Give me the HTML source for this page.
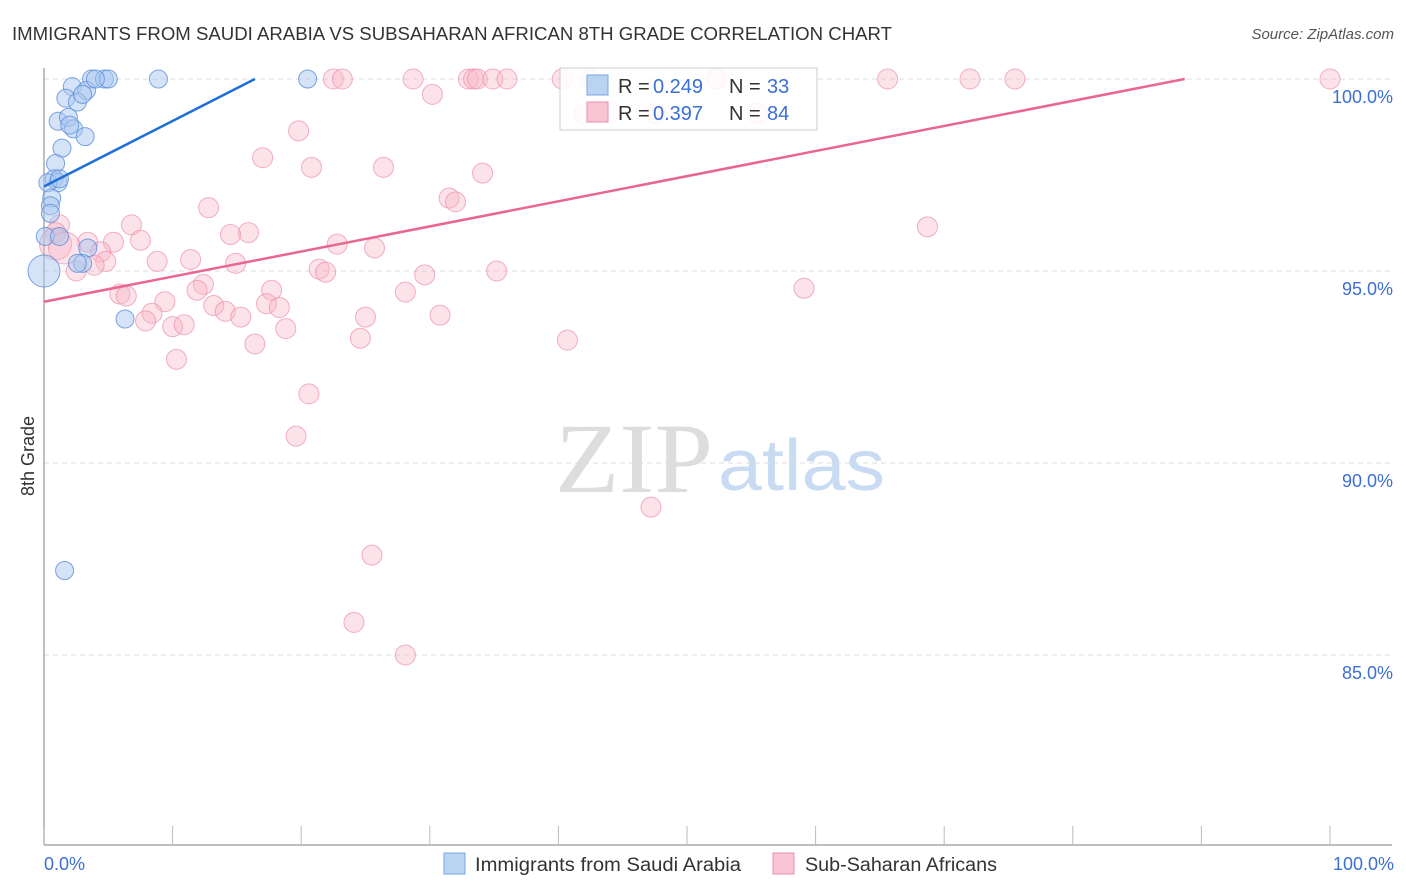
<!DOCTYPE html>
<html><head><meta charset="utf-8"><style>
body{margin:0;background:#fff;font-family:"Liberation Sans",sans-serif;}
#wrap{position:relative;width:1406px;height:892px;overflow:hidden;}
</style></head><body>
<div id="wrap">
<svg id="svg" width="1406" height="892" xmlns="http://www.w3.org/2000/svg">
<text x="12" y="40" font-size="18" fill="#333" textLength="880" lengthAdjust="spacingAndGlyphs">IMMIGRANTS FROM SAUDI ARABIA VS SUBSAHARAN AFRICAN 8TH GRADE CORRELATION CHART</text>
<text x="1394" y="39" font-size="15" fill="#555" text-anchor="end" font-style="italic">Source: ZipAtlas.com</text>
<text transform="translate(34,456) rotate(-90)" font-size="18" fill="#333" text-anchor="middle">8th Grade</text>
<g><text x="555" y="492" font-size="100" fill="#ddd" font-family="Liberation Serif,serif" textLength="158" lengthAdjust="spacingAndGlyphs">ZIP</text><text x="718" y="490" font-size="72" fill="#c8dbf3" textLength="167" lengthAdjust="spacingAndGlyphs">atlas</text></g>
<g id="grid"></g><g id="axes"></g><g id="pts"></g><g id="lines"></g>
<g>
<rect x="560" y="68" width="257" height="62" fill="#fff" fill-opacity="0.85" stroke="#ccc"/>
<rect x="587" y="75" width="21" height="20" fill="#b9d3f3" stroke="#7aa6e0"/>
<rect x="587" y="102" width="21" height="20" fill="#f9c4d4" stroke="#ec8fab"/>
<g font-size="20">
<text x="618" y="93" fill="#333">R =</text><text x="653" y="93" fill="#3b6fd6">0.249</text><text x="729" y="93" fill="#333">N =</text><text x="767" y="93" fill="#3b6fd6">33</text>
<text x="618" y="120" fill="#333">R =</text><text x="653" y="120" fill="#3b6fd6">0.397</text><text x="729" y="120" fill="#333">N =</text><text x="767" y="120" fill="#3b6fd6">84</text>
</g>
</g>
<g>
<rect x="444" y="853" width="21" height="21" fill="#b9d3f3" stroke="#7aa6e0"/>
<text x="475" y="871" font-size="19" fill="#333" textLength="266" lengthAdjust="spacingAndGlyphs">Immigrants from Saudi Arabia</text>
<rect x="773" y="853" width="21" height="21" fill="#f9c4d4" stroke="#ec8fab"/>
<text x="805" y="871" font-size="19" fill="#333" textLength="192" lengthAdjust="spacingAndGlyphs">Sub-Saharan Africans</text>
</g>
</svg>
</div>
<script>
const blueX=[2.2,3.7,4.7,5.0,8.9,20.5,3.3,1.7,2.6,3.0,1.1,1.9,2.3,3.2,1.4,0.9,0.8,1.1,0.3,0.6,0.5,0.5,0.1,1.2,3.4,3.0,2.6,0,6.3,1.6,4.0,1.2,2.0];
const blueY=[99.8,100,100,100,100,100,99.7,99.5,99.4,99.6,98.9,99.0,98.7,98.5,98.2,97.8,97.4,97.3,97.3,96.9,96.7,96.5,95.9,95.9,95.6,95.2,95.2,95.0,93.75,87.2,100,97.4,98.8];
const pinkX=[22.5,23.2,28.7,33.0,33.4,33.7,34.9,36.0,40.3,42.5,52.3,65.6,72.0,75.5,100,30.2,19.8,17.0,20.8,26.4,34.1,31.5,32.0,12.8,6.8,68.7,15.9,14.5,1.2,0.9,3.4,5.4,7.5,22.8,25.7,4.4,8.8,11.4,14.9,4.8,3.9,2.5,21.4,21.9,29.6,35.2,59.1,5.9,6.4,12.4,11.9,17.7,28.1,9.4,17.3,18.3,13.2,14.1,8.4,15.3,7.9,10.0,10.9,25.0,30.8,18.8,24.6,16.4,40.7,10.3,20.6,19.6,47.2,25.5,24.1,28.1,0.9,1.6,42.0,47.5,55.5];
const pinkY=[100,100,100,100,100,100,100,100,100,100,100,100,100,100,100,99.6,98.65,97.95,97.7,97.7,97.55,96.9,96.8,96.65,96.2,96.15,96.0,95.95,96.2,96.0,95.75,95.75,95.8,95.7,95.6,95.5,95.25,95.3,95.2,95.25,95.15,95.0,95.05,94.97,94.9,95.0,94.55,94.4,94.35,94.65,94.5,94.5,94.45,94.2,94.15,94.05,94.1,93.95,93.9,93.8,93.7,93.55,93.6,93.8,93.85,93.5,93.25,93.1,93.2,92.7,91.8,90.7,88.85,87.6,85.85,85.0,95.7,95.6,99.1,99.1,99.1];
const yTicks=[100,95,90,85];
const yTickLabels=["100.0%","95.0%","90.0%","85.0%"];
const xTicks=[0,10,20,30,40,50,60,70,80,90,100];
const blueTrend=[0,97.2,16.4,100];
const pinkTrend=[0,94.2,88.7,100];
const NS="http://www.w3.org/2000/svg";
const X=v=>44+v*12.86, Y=v=>79+(100-v)*38.4;
function mk(tag,attrs,parent){const e=document.createElementNS(NS,tag);for(const k in attrs)e.setAttribute(k,attrs[k]);document.getElementById(parent).appendChild(e);return e;}
yTicks.forEach((t,i)=>{
 const l=mk('line',{x1:44,x2:1392,y1:Y(t),y2:Y(t),stroke:'#ddd','stroke-dasharray':'5,4'},'grid');
 
 
 const tx=mk('text',{x:1393,y:Y(t)+24,'font-size':18,fill:'#3b6fd6','text-anchor':'end'},'grid');
 tx.textContent=yTickLabels[i];
 
 
});
const ax=mk('line',{x1:44,x2:1392,y1:845,y2:845,stroke:'#aaa','stroke-width':1.5},'axes');


const ay=mk('line',{x1:44,x2:44,y1:68,y2:845,stroke:'#aaa','stroke-width':1.5},'axes');


xTicks.forEach(t=>{const l=mk('line',{x1:X(t),x2:X(t),y1:826,y2:845,stroke:'#bbb'},'axes');
 
 });
[[0,"0.0%",'start',44],[100,"100.0%",'end',1394]].forEach(a=>{const t=mk('text',{x:a[3],y:870,'font-size':18,fill:'#3b6fd6','text-anchor':a[2]},'axes');t.textContent=a[1];
 
 });
pinkX.forEach((x,i)=>{const big=(i>=76&&i<=77);const c=mk('circle',{cx:X(x),cy:Y(pinkY[i]),r:big?16:10,fill:'#f7b6c9','fill-opacity':0.4,stroke:'#ec8fab','stroke-opacity':0.7},'pts');
 
 });
blueX.forEach((x,i)=>{const c=mk('circle',{cx:X(x),cy:Y(blueY[i]),r:i===27?16:9,fill:'#a9c8f0','fill-opacity':0.5,stroke:'#5b8fd8','stroke-opacity':0.8},'pts');
 
 });
const bl=mk('line',{x1:X(blueTrend[0]),y1:Y(blueTrend[1]),x2:X(blueTrend[2]),y2:Y(blueTrend[3]),stroke:'#1f6fd8','stroke-width':2.5},'lines');


const pl=mk('line',{x1:X(pinkTrend[0]),y1:Y(pinkTrend[1]),x2:X(pinkTrend[2]),y2:Y(pinkTrend[3]),stroke:'#e8668f','stroke-width':2.5},'lines');


</script>
</body></html>
